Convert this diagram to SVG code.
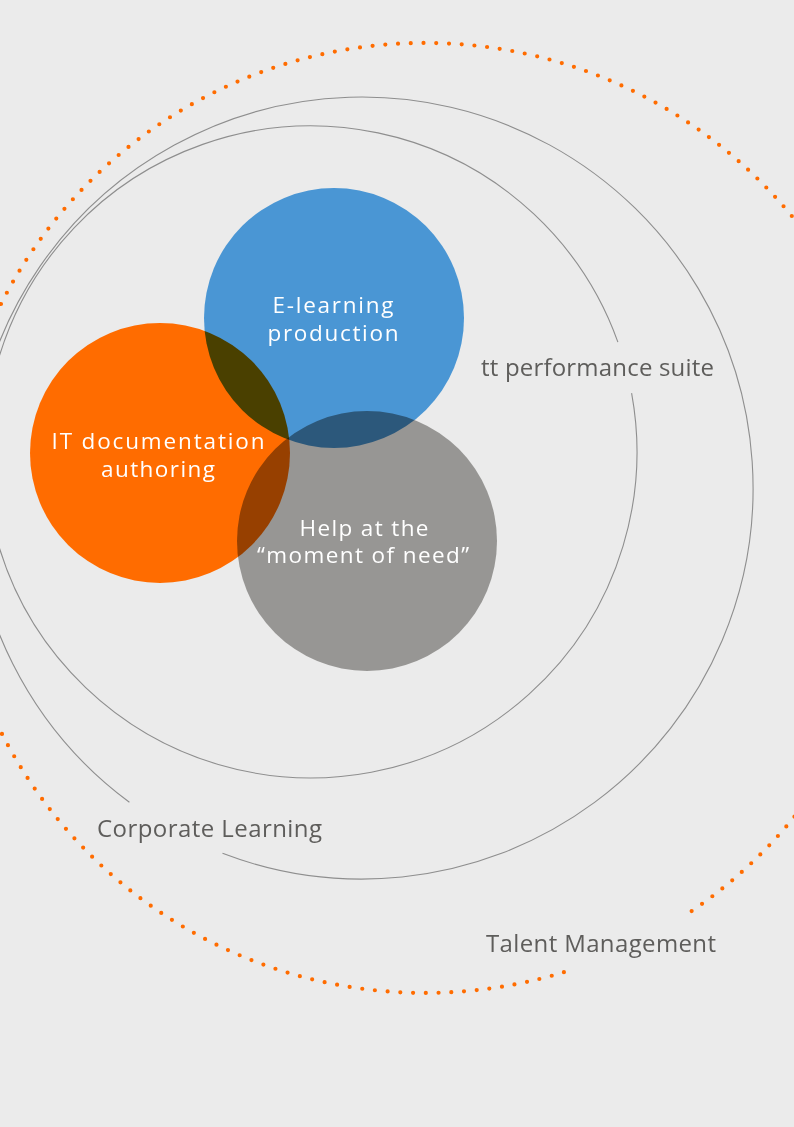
<svg xmlns="http://www.w3.org/2000/svg" width="794" height="1127" viewBox="0 0 794 1127">
<style>
.bg{fill:#ebebeb}
.ring{fill:none;stroke:#8e8e8e;stroke-width:1.1}
.dots{fill:none;stroke:#ff6c00;stroke-width:4.2;stroke-linecap:round;stroke-dasharray:0 1}
.blob{mix-blend-mode:multiply}
.lbl{font-family:"Open Sans","Lato","Liberation Sans",sans-serif;font-size:24px;fill:#5e5d5b}
.in{font-family:"Open Sans","Lato","Liberation Sans",sans-serif;font-size:22.5px;fill:#ffffff;text-anchor:middle}
</style>
<rect class="bg" x="0" y="0" width="794" height="1127"/>
<g id="talent-management">
<path class="dots" pathLength="223.1" d="M 563.9 972.2 A 475 475 0 1 1 690.6 911.8"/>
<text class="lbl" x="486" y="952" textLength="230">Talent Management</text>
</g>
<g id="corporate-learning">
<path class="ring" d="M 129.4 802.3 A 391 391 0 1 1 222.5 853.3"/>
<text class="lbl" x="97" y="837" textLength="225">Corporate Learning</text>
</g>
<g id="tt-performance-suite">
<path class="ring" d="M 631.6 393.1 A 326 326 0 1 1 617.9 342.1"/>
<text class="lbl" x="481" y="376" textLength="233">tt performance suite</text>
</g>
<g id="circles" style="isolation:isolate">
<g id="e-learning-production">
<circle class="blob" cx="334" cy="318" r="130" fill="#4a96d4"/>
</g>
<g id="it-documentation-authoring">
<circle class="blob" cx="160" cy="453" r="130" fill="#ff6c00"/>
</g>
<g id="help-moment-of-need">
<circle class="blob" cx="367" cy="541" r="130" fill="#979694"/>
</g>
</g>
<g id="labels">
<text class="in" x="333" y="313" textLength="121">E-learning</text>
<text class="in" x="333" y="341" textLength="131">production</text>
<text class="in" x="158" y="449" textLength="213">IT documentation</text>
<text class="in" x="158" y="477" textLength="114">authoring</text>
<text class="in" x="364" y="536" textLength="129">Help at the</text>
<text class="in" x="363" y="563" textLength="212">“moment of need”</text>
</g>
</svg>
